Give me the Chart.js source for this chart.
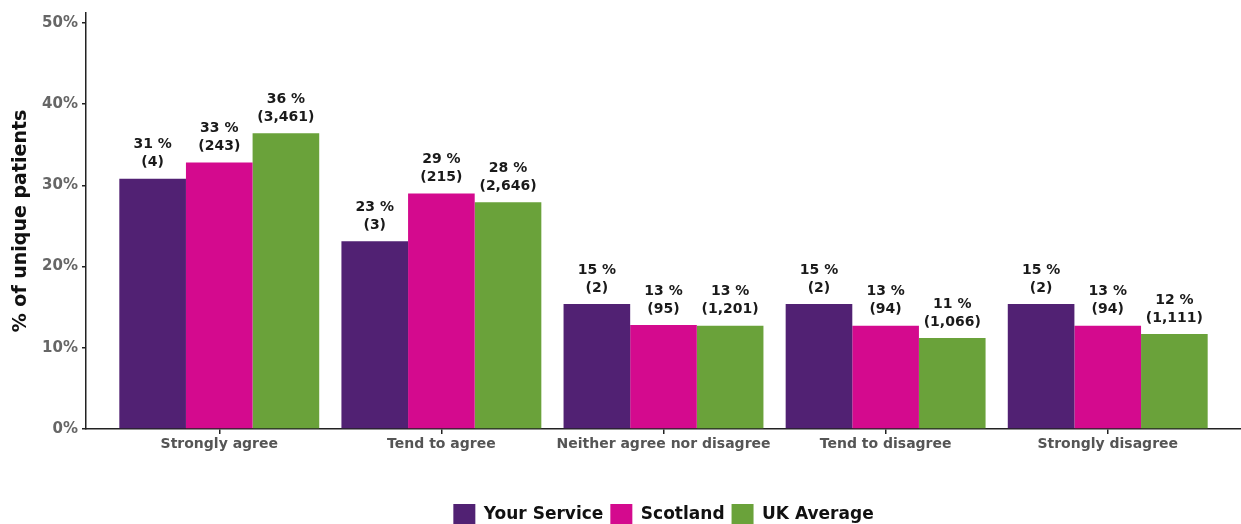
<!DOCTYPE html>
<html>
<head>
<meta charset="utf-8">
<script src="https://cdn.jsdelivr.net/npm/chart.js@4"></script>
<style>
  html, body { margin: 0; padding: 0; background: #fff; overflow: hidden; }
  #wrap { width: 1241px; height: 536px; position: relative; }
</style>
</head>
<body>
<div id="wrap"><canvas id="surveyChart"></canvas></div>
<script>
// valeurs
const categories = ['Strongly agree', 'Tend to agree', 'Neither agree nor disagree', 'Tend to disagree', 'Strongly disagree'];
const seriesNames = ['Your Service', 'Scotland', 'UK Average'];
const yourService = [30.8, 23.1, 15.4, 15.4, 15.4];
const scotland = [32.8, 29.0, 12.8, 12.7, 12.7];
const ukAverage = [36.4, 27.9, 12.7, 11.2, 11.7];
const yourServiceN = [4, 3, 2, 2, 2];
const scotlandN = [243, 215, 95, 94, 94];
const ukAverageN = [3461, 2646, 1201, 1066, 1111];
const yTicks = [0, 10, 20, 30, 40, 50];

const colors = ['#512173', '#d40a8e', '#6aa23a'];
const FONT = 'DejaVu Sans';

const counts = [yourServiceN, scotlandN, ukAverageN];
const toPoints = arr => arr.map((v, i) => ({ x: i + 1, y: v }));

const barLabels = {
    id: 'barLabels',
    afterDatasetsDraw(chart) {
        const ctx = chart.ctx;
        ctx.save();
        ctx.font = 'bold 14px "' + FONT + '"';
        ctx.fillStyle = '#1a1a1a';
        ctx.textAlign = 'center';
        ctx.textBaseline = 'middle';
        chart.data.datasets.forEach((ds, di) => {
            const meta = chart.getDatasetMeta(di);
            meta.data.forEach((bar, i) => {
                const v = ds.data[i].y;
                const n = counts[di][i].toLocaleString('en-GB');
                ctx.fillText(Math.round(v) + ' %', bar.x, bar.y - 34);
                ctx.fillText('(' + n + ')', bar.x, bar.y - 16);
            });
        });
        ctx.restore();
    }
};

new Chart(document.getElementById('surveyChart'), {
    type: 'bar',
    data: {
        datasets: [
            { label: seriesNames[0], data: toPoints(yourService), backgroundColor: colors[0] },
            { label: seriesNames[1], data: toPoints(scotland), backgroundColor: colors[1] },
            { label: seriesNames[2], data: toPoints(ukAverage), backgroundColor: colors[2] }
        ]
    },
    options: {
        responsive: true,
        maintainAspectRatio: false,
        animation: false,
        categoryPercentage: 0.9,
        barPercentage: 1.0,
        layout: { padding: { top: 12, right: 0, left: 0, bottom: 0 } },
        plugins: {
            tooltip: { enabled: false },
            legend: {
                position: 'bottom',
                fullSize: false,
                labels: {
                    boxWidth: 22, boxHeight: 22, padding: 7, color: '#111',
                    font: { family: FONT, size: 17, weight: 'bold' }
                }
            }
        },
        scales: {
            x: {
                type: 'linear',
                min: 0.4,
                max: 5.6,
                offset: false,
                afterBuildTicks: s => { s.ticks = categories.map((c, i) => ({ value: i + 1 })); },
                afterFit: s => { s.height = 68; },
                ticks: {
                    autoSkip: false, maxRotation: 0, padding: 2, color: '#555',
                    font: { family: FONT, size: 14, weight: 'bold' },
                    callback: v => categories[v - 1]
                },
                grid: { offset: false, drawOnChartArea: false, tickLength: 5, color: '#222', lineWidth: 1.5 },
                border: { color: '#222', width: 1.5 }
            },
            y: {
                min: 0,
                max: 51.2,
                afterBuildTicks: s => { s.ticks = yTicks.map(v => ({ value: v })); },
                afterFit: s => { s.width = 86; },
                ticks: {
                    padding: 4, color: '#666',
                    font: { family: FONT, size: 15, weight: 'bold' },
                    callback: v => v + '%'
                },
                grid: { drawOnChartArea: false, tickLength: 4, color: '#222', lineWidth: 1.5 },
                border: { color: '#222', width: 1.5 },
                title: {
                    display: true, text: '% of unique patients', color: '#111',
                    padding: { top: 10, bottom: 0 },
                    font: { family: FONT, size: 19, weight: 'bold' }
                }
            }
        }
    },
    plugins: [barLabels]
});
</script>
</body>
</html>
